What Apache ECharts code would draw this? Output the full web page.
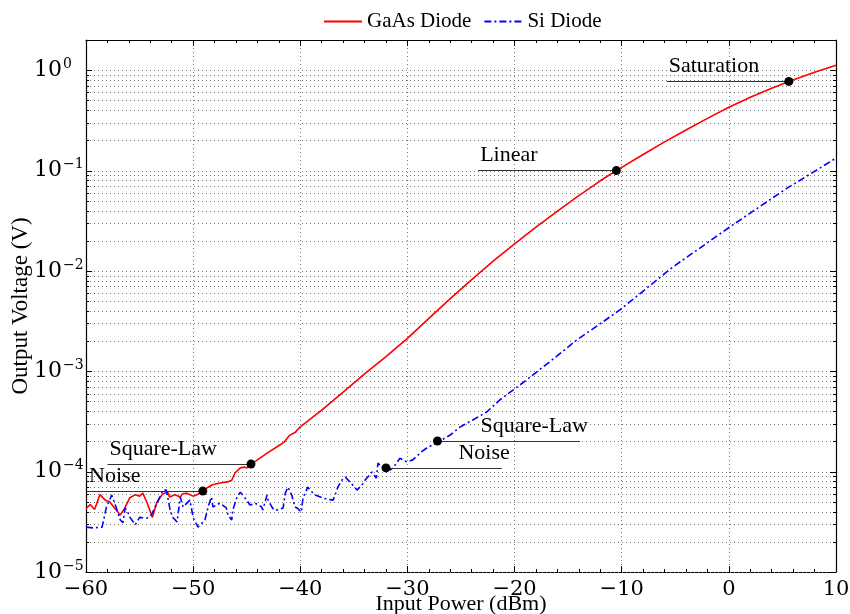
<!DOCTYPE html>
<html>
<head>
<meta charset="utf-8">
<script src="https://cdn.jsdelivr.net/npm/echarts@6/dist/echarts.min.js"></script>
<style>
  html, body { margin: 0; padding: 0; background: #fff; }
  #chart { width: 850px; height: 614px; }
</style>
</head>
<body>
<div id="chart"></div>
<script>
// Detector output voltage versus RF input power for two diode types.

// GaAs diode: input power (dBm) and output voltage (V)
const gaasPower = [
  -60, -59.6, -59.2, -58.7, -58.2, -57.8, -57.3, -56.8, -56.4, -55.9,
  -55.4, -55.0, -54.7, -54.3, -53.8, -53.4, -52.9, -52.4, -52.2, -51.7,
  -51.2, -51.0, -50.6, -50.0, -49.5, -49.1, -48.6, -48.2, -47.5, -46.8,
  -46.4, -46.1, -45.6, -45.2, -45.0, -44.6, -44.0, -43.1, -42.2, -41.5,
  -41.0, -40.5, -40.0, -38.0, -36.0, -34.0, -32.0, -30.0, -28.0, -26.0,
  -24.0, -22.0, -20.0, -18.0, -16.0, -14.0, -12.0, -10.5, -8.0, -6.0,
  -4.0, -2.0, 0.0, 2.0, 4.0, 5.6, 8.0, 10.0
];
const gaasVoltage = [
  4.3e-5, 4.7e-5, 4.2e-5, 5.9e-5, 5.2e-5, 5.0e-5, 4.3e-5, 3.7e-5, 4.3e-5, 5.5e-5,
  5.9e-5, 5.7e-5, 6.1e-5, 4.9e-5, 3.5e-5, 4.9e-5, 5.9e-5, 6.3e-5, 5.6e-5, 5.9e-5,
  5.6e-5, 6.0e-5, 6.1e-5, 5.7e-5, 6.0e-5, 6.4e-5, 7.0e-5, 7.4e-5, 7.7e-5, 7.9e-5,
  8.2e-5, 9.7e-5, 1.09e-4, 1.11e-4, 1.09e-4, 1.19e-4, 1.31e-4, 1.53e-4, 1.76e-4, 1.97e-4,
  2.3e-4, 2.45e-4, 2.8e-4, 4.1e-4, 6.2e-4, 9.4e-4, 1.4e-3, 2.13e-3, 3.37e-3, 5.3e-3,
  8.2e-3, 0.0125, 0.0186, 0.0273, 0.0394, 0.0562, 0.0791, 0.1, 0.1445, 0.193,
  0.254, 0.331, 0.427, 0.537, 0.661, 0.773, 0.955, 1.12
];

// Si diode: input power (dBm) and output voltage (V)
const siPower = [
  -60, -59.35, -58.5, -58.1, -57.6, -57.1, -56.8, -56.55, -56.35, -56.1,
  -55.9, -55.4, -55.0, -54.3, -53.9, -53.55, -53.1, -52.8, -52.5, -52.15,
  -51.9, -51.5, -51.2, -50.95, -50.3, -50.0, -49.55, -48.9, -48.6, -48.3,
  -48.15, -47.5, -46.9, -46.75, -46.4, -46.3, -45.9, -45.6, -45.0, -44.7,
  -44.2, -43.6, -43.5, -43.1, -43.0, -42.6, -42.35, -41.6, -41.4, -41.15,
  -40.8, -40.5, -40.3, -39.9, -39.75, -39.3, -39.1, -38.6, -37.9, -36.95,
  -36.75, -36.5, -36.1, -35.8, -35.35, -34.7, -34.25, -33.95, -33.3, -32.9,
  -32.75, -32.4, -32.0, -31.6, -31.35, -30.7, -30.05, -29.5, -28.7, -28.2,
  -27.3, -27.2, -26.0, -25.1, -23.9, -22.6, -21.4, -18.9, -16.0, -14.2,
  -12.0, -10.2, -8.0, -5.2, -2.5, 0.1, 2.5, 5.4, 7.5, 10.0
];
const siVoltage = [
  2.8e-5, 2.75e-5, 2.8e-5, 4.4e-5, 5.85e-5, 4.15e-5, 3.3e-5, 3.1e-5, 4.35e-5, 3.95e-5,
  3.5e-5, 2.95e-5, 3.5e-5, 3.45e-5, 3.7e-5, 4.45e-5, 5.6e-5, 6.55e-5, 6.55e-5, 4.15e-5,
  3.5e-5, 3.15e-5, 5.6e-5, 4.45e-5, 5.2e-5, 3.5e-5, 2.8e-5, 3.3e-5, 4.45e-5, 5.6e-5,
  4.45e-5, 4.85e-5, 4.35e-5, 3.7e-5, 3.3e-5, 4.15e-5, 5.6e-5, 6.25e-5, 5.2e-5, 4.65e-5,
  4.85e-5, 4.45e-5, 4.15e-5, 5.85e-5, 5.2e-5, 4.35e-5, 4.1e-5, 4.35e-5, 6.1e-5, 7.0e-5,
  5.85e-5, 4.45e-5, 4.35e-5, 3.95e-5, 5.45e-5, 7.0e-5, 6.55e-5, 5.85e-5, 5.45e-5, 5.2e-5,
  5.85e-5, 7.0e-5, 8.25e-5, 8.85e-5, 7.85e-5, 6.55e-5, 7.35e-5, 8.25e-5, 9.9e-5, 8.6e-5,
  1.22e-4, 1.11e-4, 1.09e-4, 1.04e-4, 1.09e-4, 1.36e-4, 1.25e-4, 1.31e-4, 1.57e-4, 1.72e-4,
  1.93e-4, 2.02e-4, 2.32e-4, 2.78e-4, 3.27e-4, 3.93e-4, 5.16e-4, 8.17e-4, 1.43e-3, 2.05e-3,
  2.98e-3, 4.07e-3, 6.3e-3, 0.011, 0.0175, 0.0275, 0.041, 0.0664, 0.091, 0.133
];

// Marked operating regions on each curve
const gaasMarkNames   = ['Noise', 'Square-Law', 'Linear', 'Saturation'];
const gaasMarkPower   = [-49.1, -44.6, -10.5, 5.6];
const gaasMarkVoltage = [6.4e-5, 1.19e-4, 0.1, 0.773];
const siMarkNames     = ['Noise', 'Square-Law'];
const siMarkPower     = [-32.0, -27.2];
const siMarkVoltage   = [1.09e-4, 2.02e-4];

// Axis ranges
const powerMin = -60, powerMax = 10, powerStep = 10;
const voltMin = 1e-5, voltMax = 2;

// Leader-line extents (dBm) for the region labels
const gaasLeaderStart = [-59.9, -58.0, -23.4, -5.8];
const siLeaderEnd     = [-21.2, -13.9];

const SERIF = "'Liberation Serif', 'Times New Roman', serif";
const MATH = "'DejaVu Serif', serif";

const zip = (xs, ys) => xs.map((x, i) => [x, ys[i]]);

// Log-decade grid values: majors at powers of ten, minors at 2..9 x 10^n
const gridValues = [];
for (let e = -5; e <= 0; e++) {
  gridValues.push({ v: Math.pow(10, e), major: true });
  if (e < 0) for (let m = 2; m <= 9; m++) gridValues.push({ v: m * Math.pow(10, e), major: false });
}

const superDigits = (e) => (e < 0 ? '\u2212' + (-e) : String(e));

const labelText = { fontFamily: SERIF, fontSize: 22, color: '#000' };

function leaderLines(names, power, volt, ends, side) {
  return names.map((n, i) => {
    const a = side === 'start' ? [ends[i], volt[i]] : [power[i], volt[i]];
    const b = side === 'start' ? [power[i], volt[i]] : [ends[i], volt[i]];
    const label = Object.assign({
      show: true, formatter: n,
      position: side === 'start' ? 'insideStartTop' : 'insideEndTop',
      distance: [side === 'start' ? 2 : -8, 4]
    }, labelText);
    return [{ coord: a, label: label }, { coord: b, label: label }];
  });
}

const chart = echarts.init(document.getElementById('chart'), null, { renderer: 'canvas' });

const option = {
  animation: false,
  backgroundColor: '#fff',
  grid: { left: 86, right: 14, top: 40, bottom: 42, containLabel: false, outerBoundsMode: 'none' },
  legend: {
    data: ['GaAs Diode', 'Si Diode'],
    left: 318, top: 6,
    itemWidth: 38, itemHeight: 14, itemGap: 12,
    itemStyle: { opacity: 0 },
    textStyle: { fontFamily: SERIF, fontSize: 21, color: '#000' }
  },
  xAxis: [
    {
      type: 'value', min: powerMin, max: powerMax, interval: powerStep,
      position: 'bottom',
      name: 'Input Power (dBm)', nameLocation: 'middle', nameGap: 21,
      nameMoveOverlap: false,
      nameTextStyle: { fontFamily: SERIF, fontSize: 22, color: '#000' },
      axisLine: { show: true, onZero: false, lineStyle: { color: '#000', width: 1.2 } },
      axisTick: { show: true, inside: true, length: 6, lineStyle: { color: '#000' } },
      minorTick: { show: true, splitNumber: 5, length: 3, lineStyle: { color: '#000' } },
      axisLabel: {
        margin: 7, fontFamily: MATH, fontSize: 21, color: '#000',
        formatter: (v) => String(v).replace('-', '\u2212')
      },
      splitLine: { show: true, lineStyle: { color: '#777', width: 1, type: [1, 3] } }
    },
    {
      type: 'value', min: powerMin, max: powerMax, interval: powerStep,
      position: 'top',
      axisLine: { show: true, onZero: false, lineStyle: { color: '#000', width: 1 } },
      axisTick: { show: true, inside: true, length: 6, lineStyle: { color: '#000' } },
      minorTick: { show: true, splitNumber: 5, length: 3, lineStyle: { color: '#000' } },
      axisLabel: { show: false },
      splitLine: { show: false }
    }
  ],
  yAxis: [
    {
      type: 'log', logBase: 10, min: voltMin, max: voltMax,
      position: 'left',
      name: 'Output Voltage (V)', nameLocation: 'middle', nameGap: 54,
      nameMoveOverlap: false,
      nameTextStyle: { fontFamily: SERIF, fontSize: 23, color: '#000' },
      axisLine: { show: true, onZero: false, lineStyle: { color: '#000', width: 1.2 } },
      axisTick: { show: false },
      splitLine: { show: false },
      axisLabel: {
        margin: 52, align: 'left',
        formatter: (v) => {
          const l = Math.log10(v);
          const e = Math.round(l);
          if (Math.abs(l - e) > 1e-6) return '';
          return '{b|10}{s|' + superDigits(e) + '}';
        },
        rich: {
          b: { fontFamily: MATH, fontSize: 22, color: '#000', lineHeight: 26 },
          s: { fontFamily: MATH, fontSize: 14, color: '#000', verticalAlign: 'top', lineHeight: 14, padding: [0, 0, 0, 1] }
        }
      }
    },
    {
      type: 'log', logBase: 10, min: voltMin, max: voltMax,
      position: 'right',
      axisLine: { show: true, onZero: false, lineStyle: { color: '#000', width: 1.2 } },
      axisTick: { show: false },
      axisLabel: { show: false },
      splitLine: { show: false }
    }
  ],
  series: [
    {
      // dotted log grid with inward ticks on both vertical edges
      type: 'custom',
      name: 'grid',
      silent: true,
      z: 1,
      xAxisIndex: 0, yAxisIndex: 0,
      data: gridValues.map(g => [powerMin, g.v, g.major ? 1 : 0]),
      renderItem: (params, api) => {
        const v = api.value(1);
        const major = api.value(2) === 1;
        const p0 = api.coord([powerMin, v]);
        const p1 = api.coord([powerMax, v]);
        const y = Math.round(p0[1]) + 0.5;
        const len = major ? 6 : 3;
        return {
          type: 'group',
          children: [
            { type: 'line', shape: { x1: p0[0], y1: y, x2: p1[0], y2: y },
              style: { stroke: '#777', lineWidth: 1, lineDash: [1, 3] } },
            { type: 'line', shape: { x1: p0[0], y1: y, x2: p0[0] + len, y2: y },
              style: { stroke: '#000', lineWidth: 1 } },
            { type: 'line', shape: { x1: p1[0] - len, y1: y, x2: p1[0], y2: y },
              style: { stroke: '#000', lineWidth: 1 } }
          ]
        };
      }
    },
    {
      name: 'GaAs Diode',
      type: 'line',
      data: zip(gaasPower, gaasVoltage),
      symbol: 'none', showSymbol: false, smooth: false,
      lineStyle: { color: '#ff0000', width: 1.6 },
      itemStyle: { color: '#ff0000' },
      z: 3,
      markLine: {
        silent: true, symbol: ['none', 'none'], animation: false,
        lineStyle: { color: '#333', width: 1, type: 'solid' },
        data: leaderLines(gaasMarkNames, gaasMarkPower, gaasMarkVoltage, gaasLeaderStart, 'start')
      },
      markPoint: {
        silent: true, symbol: 'circle', symbolSize: 9, animation: false,
        itemStyle: { color: '#000' }, label: { show: false },
        data: gaasMarkPower.map((p, i) => ({ coord: [p, gaasMarkVoltage[i]] }))
      }
    },
    {
      name: 'Si Diode',
      type: 'line',
      data: zip(siPower, siVoltage),
      symbol: 'none', showSymbol: false, smooth: false,
      lineStyle: { color: '#0000ff', width: 1.6, type: [7, 3, 2, 3] },
      itemStyle: { color: '#0000ff' },
      z: 3,
      markLine: {
        silent: true, symbol: ['none', 'none'], animation: false,
        lineStyle: { color: '#333', width: 1, type: 'solid' },
        data: leaderLines(siMarkNames, siMarkPower, siMarkVoltage, siLeaderEnd, 'end')
      },
      markPoint: {
        silent: true, symbol: 'circle', symbolSize: 9, animation: false,
        itemStyle: { color: '#000' }, label: { show: false },
        data: siMarkPower.map((p, i) => ({ coord: [p, siMarkVoltage[i]] }))
      }
    }
  ]
};

chart.setOption(option);
</script>
</body>
</html>
